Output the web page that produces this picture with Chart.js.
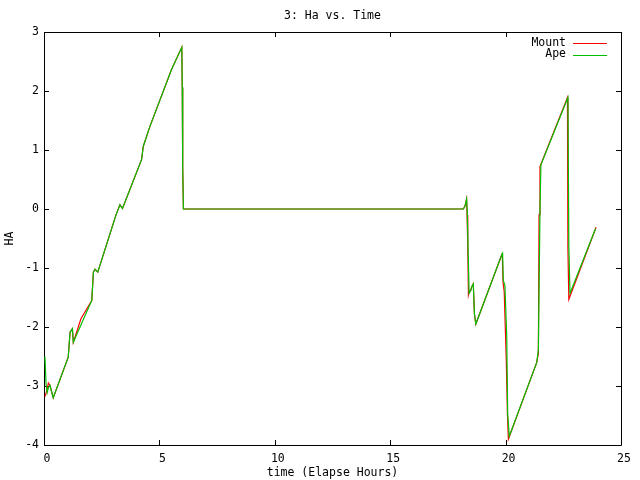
<!DOCTYPE html>
<html>
<head>
<meta charset="utf-8">
<title>3: Ha vs. Time</title>
<script src="https://cdn.jsdelivr.net/npm/chart.js@4/dist/chart.umd.min.js"></script>
<style>
  html, body { margin: 0; padding: 0; background: #fff; }
  #chart { display: block; }
</style>
</head>
<body>
<canvas id="chart" width="640" height="480"></canvas>
<script>
// elapsed hours / hour angle
const apeTime = [0.04, 0.09, 0.14, 0.19, 0.26, 0.36, 0.40, 1.05, 1.13, 1.23, 1.27, 2.07, 2.14, 2.21, 2.33,
  3.12, 3.29, 3.40, 4.23, 4.30, 4.59, 5.53, 5.97, 5.99, 6.01, 6.04,
  18.17, 18.24, 18.31, 18.34, 18.38, 18.42, 18.49, 18.53, 18.60, 18.65, 18.71,
  19.83, 19.87, 19.90, 19.97, 20.05, 20.09, 20.16, 21.35, 21.42, 21.49, 21.53,
  22.70, 22.74, 22.79, 23.90];
const apeHa = [-2.50, -2.97, -3.11, -3.03, -2.99, -3.14, -3.20, -2.51, -2.09, -2.03, -2.26, -1.55, -1.07, -1.02, -1.07,
  -0.10, 0.07, 0.01, 0.84, 1.06, 1.40, 2.37, 2.74, 2.06, 0.70, 0.00,
  0.00, 0.05, 0.17, -0.05, -0.78, -1.43, -1.38, -1.32, -1.27, -1.78, -1.95,
  -0.78, -0.75, -1.21, -1.30, -2.17, -3.48, -3.85, -2.60, -2.38, -0.01, 0.75,
  1.89, -0.64, -1.43, -0.33];

const mountTime = [0.04, 0.09, 0.14, 0.19, 0.26, 0.36, 0.40, 1.05, 1.13, 1.23, 1.27, 1.60, 2.07, 2.14, 2.21, 2.33,
  3.12, 3.29, 3.40, 4.23, 4.30, 4.59, 5.53, 5.97, 5.99, 6.01, 6.04,
  18.17, 18.24, 18.31, 18.33, 18.36, 18.39, 18.42, 18.49, 18.53, 18.60, 18.65, 18.71,
  19.83, 19.86, 19.89, 19.94, 20.03, 20.08, 20.12, 21.35, 21.42, 21.45, 21.49,
  22.68, 22.70, 22.74, 23.92];
const mountHa = [-3.18, -3.12, -3.05, -2.95, -2.99, -3.14, -3.20, -2.51, -2.09, -2.03, -2.26, -1.86, -1.55, -1.07, -1.02, -1.07,
  -0.10, 0.07, 0.01, 0.84, 1.06, 1.40, 2.37, 2.74, 2.06, 0.70, 0.00,
  0.00, 0.05, 0.17, -0.10, -0.60, -1.45, -1.40, -1.38, -1.32, -1.27, -1.78, -1.95,
  -0.78, -0.82, -1.25, -1.40, -2.57, -3.48, -3.90, -2.60, -2.45, -0.10, 0.72,
  1.89, -0.67, -1.53, -0.31];

const seriesNames = ['Mount', 'Ape'];
const xTicks = [0, 5, 10, 15, 20, 25];
const yTicks = [-4, -3, -2, -1, 0, 1, 2, 3];

const FONT = "'DejaVu Sans Mono', monospace";

function toPoints(xs, ys) {
  return xs.map((x, i) => ({ x: x, y: ys[i] }));
}

// gnuplot style frame with inward ticks on all four sides
const framePlugin = {
  id: 'frame',
  beforeDatasetsDraw(chart) {
    const { ctx, chartArea: a, scales } = chart;
    const tl = 5;
    ctx.save();
    ctx.strokeStyle = '#000';
    ctx.lineWidth = 1;
    ctx.beginPath();
    ctx.rect(a.left + 0.5, a.top + 0.5, a.right - a.left, a.bottom - a.top);
    xTicks.forEach((v) => {
      const px = Math.round(scales.x.getPixelForValue(v)) + 0.5;
      ctx.moveTo(px, a.bottom); ctx.lineTo(px, a.bottom - tl);
      ctx.moveTo(px, a.top); ctx.lineTo(px, a.top + tl);
    });
    yTicks.forEach((v) => {
      const py = Math.round(scales.y.getPixelForValue(v)) + 0.5;
      ctx.moveTo(a.left, py); ctx.lineTo(a.left + tl, py);
      ctx.moveTo(a.right, py); ctx.lineTo(a.right - tl, py);
    });
    ctx.stroke();
    ctx.restore();
  },
  afterDraw(chart) {
    const { ctx, chartArea: a } = chart;
    ctx.save();
    ctx.fillStyle = '#000';
    ctx.font = '11.5px ' + FONT;
    ctx.textBaseline = 'middle';
    ctx.textAlign = 'center';
    ctx.fillText('3: Ha vs. Time', (a.left + a.right) / 2, 16);
    // legend, text right aligned with the sample line after it
    chart.data.datasets.forEach((ds, i) => {
      const y = 43 + i * 11.5;
      ctx.textAlign = 'right';
      ctx.fillStyle = '#000';
      ctx.fillText(ds.label, 566, y);
      ctx.strokeStyle = ds.borderColor;
      ctx.lineWidth = 1;
      ctx.beginPath();
      ctx.moveTo(573, Math.round(y) + 0.5);
      ctx.lineTo(607, Math.round(y) + 0.5);
      ctx.stroke();
    });
    ctx.restore();
  }
};

function init() {
  const ctx = document.getElementById('chart');
  new Chart(ctx, {
    type: 'line',
    data: {
      datasets: [
        {
          label: seriesNames[0],
          data: toPoints(mountTime, mountHa),
          borderColor: '#ff0000',
          borderWidth: 1.2,
          pointRadius: 0,
          tension: 0,
          order: 1,
        },
        {
          label: seriesNames[1],
          data: toPoints(apeTime, apeHa),
          borderColor: '#00c000',
          borderWidth: 1.2,
          pointRadius: 0,
          tension: 0,
          order: 0,
        },
      ],
    },
    options: {
      responsive: false,
      animation: false,
      devicePixelRatio: 1,
      layout: { padding: { top: 32, right: 19, bottom: 0, left: 0 } },
      plugins: {
        legend: { display: false },
        title: { display: false },
        tooltip: { enabled: false },
      },
      scales: {
        x: {
          type: 'linear',
          min: 0,
          max: 25,
          afterBuildTicks: (s) => { s.ticks = xTicks.map((v) => ({ value: v })); },
          afterFit: (s) => { s.height = 35; },
          grid: { display: false, drawTicks: false },
          border: { display: false },
          ticks: { color: '#000', padding: 7, labelOffset: 3, font: { family: FONT, size: 11.5 } },
          title: {
            display: true,
            text: 'time (Elapse Hours)',
            color: '#000',
            font: { family: FONT, size: 11.5 },
            padding: { top: 0, bottom: 0 },
          },
        },
        y: {
          type: 'linear',
          min: -4,
          max: 3,
          afterBuildTicks: (s) => { s.ticks = yTicks.map((v) => ({ value: v })); },
          afterFit: (s) => { s.width = 44; },
          grid: { display: false, drawTicks: false },
          border: { display: false },
          ticks: { color: '#000', padding: 5, font: { family: FONT, size: 11.5 } },
          title: {
            display: true,
            text: 'HA',
            color: '#000',
            font: { family: FONT, size: 11.5 },
            padding: { top: 3, bottom: 0 },
          },
        },
      },
    },
    plugins: [framePlugin],
  });
}

document.addEventListener('DOMContentLoaded', init);
</script>
</body>
</html>
